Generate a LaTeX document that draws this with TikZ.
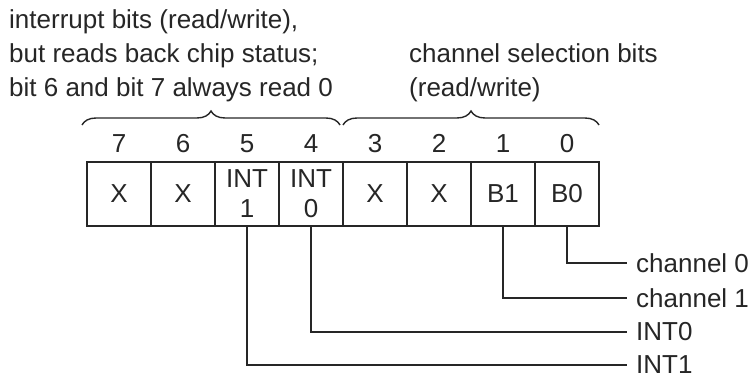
\documentclass[tikz,border=0pt]{standalone}
\usepackage{fontspec}
\setmainfont{Liberation Sans}
\usetikzlibrary{decorations.pathreplacing}
\definecolor{ink}{RGB}{38,38,38}
\begin{document}
\begin{tikzpicture}[x=1pt,y=-1pt,
  every node/.style={font=\fontsize{26}{30}\selectfont, text=ink},
  cell/.style={draw=ink, line width=2.6pt, minimum width=64pt, minimum height=64pt, inner sep=0pt, align=center},
  bitno/.style={anchor=base},
  txt/.style={anchor=base west, inner sep=0pt},
  lbl/.style={anchor=west, inner xsep=9pt, inner ysep=0pt},
  conn/.style={draw=ink, line width=1.6pt},
  brc/.style={draw=ink, line width=1.4pt, decorate, decoration={brace, amplitude=14pt}}
]
\useasboundingbox (0,0) rectangle (748,378);

% top-left text
\node[txt] (t1) at (9,28) {interrupt bits (read/write),};
\node[txt] (t2) at (9,62) {but reads back chip status;};
\node[txt] (t3) at (9,96) {bit 6 and bit 7 always read 0};
% top-right text
\node[txt] (t4) at (409,62) {channel selection bits};
\node[txt] (t5) at (409,96) {(read/write)};

% braces
\draw[brc] (82,125) -- (340,125);
\draw[brc] (343,125) -- (599,125);

% bit numbers
\foreach \b/\k in {7/0,6/1,5/2,4/3,3/4,2/5,1/6,0/7}{
  \node[bitno] (n\b) at ({119+64*\k},152) {\b};
}

% cells
\node[cell] (c7) at (119,194) {X};
\node[cell] (c6) at (183,194) {X};
\node[cell] (c5) at (247,194) {INT\\1};
\node[cell] (c4) at (311,194) {INT\\0};
\node[cell] (c3) at (375,194) {X};
\node[cell] (c2) at (439,194) {X};
\node[cell] (c1) at (503,194) {B1};
\node[cell] (c0) at (567,194) {B0};

% labels
\node[lbl] (l0) at (627,263) {channel 0};
\node[lbl] (l1) at (627,298) {channel 1};
\node[lbl] (l2) at (627,332) {INT0};
\node[lbl] (l3) at (627,365) {INT1};

% connectors
\draw[conn] (c0.south) |- (l0.west);
\draw[conn] (c1.south) |- (l1.west);
\draw[conn] (c4.south) |- (l2.west);
\draw[conn] (c5.south) |- (l3.west);
\end{tikzpicture}
\end{document}
